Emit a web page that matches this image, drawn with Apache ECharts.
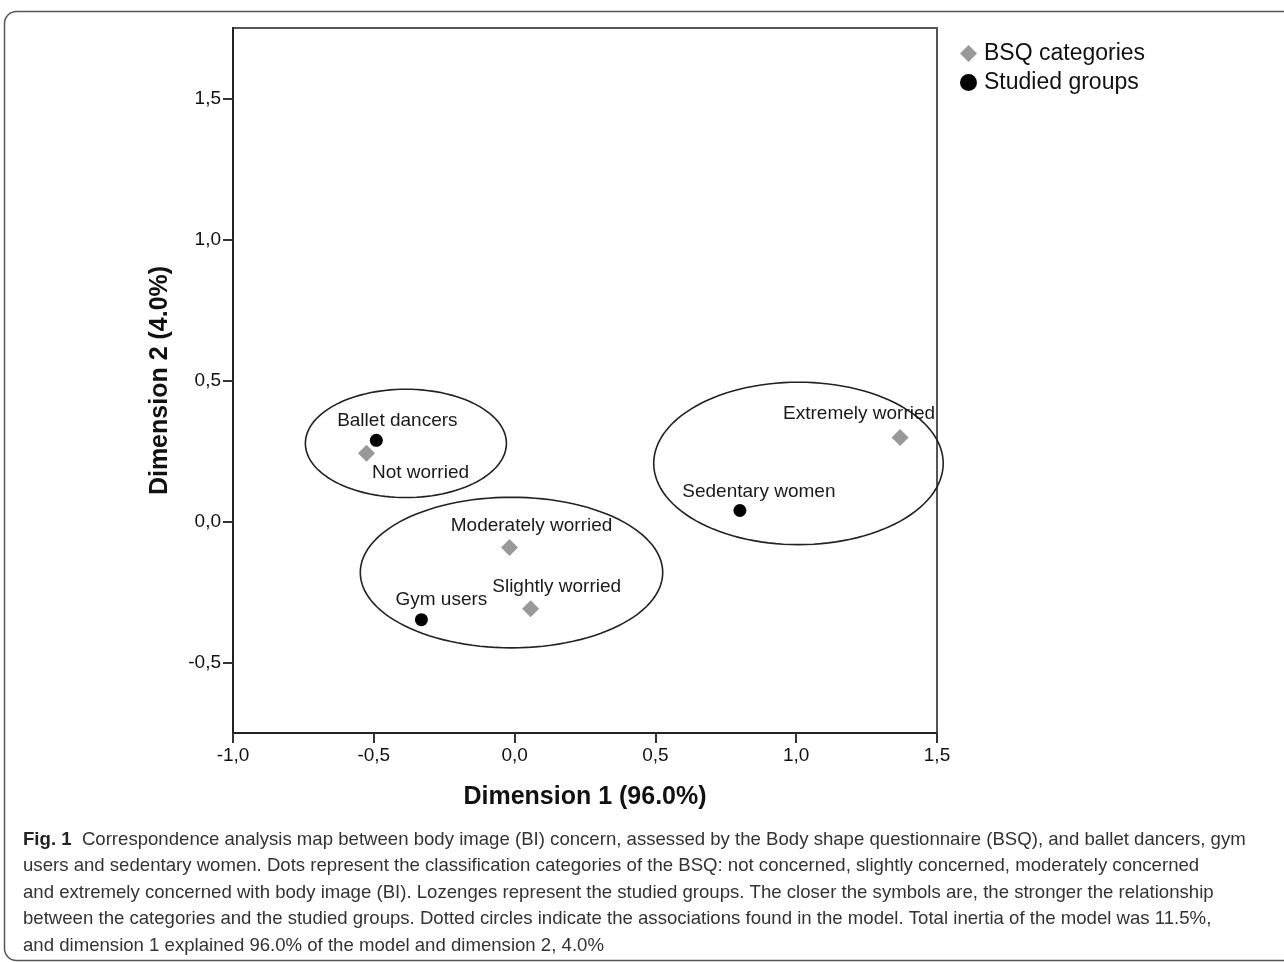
<!DOCTYPE html>
<html>
<head>
<meta charset="utf-8">
<script src="https://cdn.jsdelivr.net/npm/echarts@6/dist/echarts.min.js"></script>
<style>
  html,body{margin:0;padding:0;background:#fff}
  #main{width:1284px;height:962px}
</style>
</head>
<body>
<div id="main"></div>
<script>
// BSQ categories (diamonds)
var bsqNames = ['Not worried', 'Slightly worried', 'Moderately worried', 'Extremely worried']
var bsqDim1 = [-0.526, 0.057, -0.018, 1.369]
var bsqDim2 = [0.242, -0.309, -0.092, 0.298]
// studied groups (dots)
var groupNames = ['Ballet dancers', 'Gym users', 'Sedentary women']
var groupDim1 = [-0.491, -0.331, 0.800]
var groupDim2 = [0.288, -0.348, 0.039]
// association ellipses: centre and radii in data units
var ellCx = [-0.386, -0.011, 1.008]
var ellCy = [0.277, -0.181, 0.206]
var ellRx = [0.357, 0.537, 0.514]
var ellRy = [0.192, 0.267, 0.288]
// ticks
var xTicks = [-1.0, -0.5, 0.0, 0.5, 1.0, 1.5]
var yTicks = [-0.5, 0.0, 0.5, 1.0, 1.5]

// label placement (pixels, relative to the symbol)
var bsqLabelOff = [[54, 20], [26, -22], [22, -22], [-41, -24]]
var groupLabelOff = [[21, -20], [20, -20], [19, -19]]

var captionLines = [
  'Correspondence analysis map between body image (BI) concern, assessed by the Body shape questionnaire (BSQ), and ballet dancers, gym',
  'users and sedentary women. Dots represent the classification categories of the BSQ: not concerned, slightly concerned, moderately concerned',
  'and extremely concerned with body image (BI). Lozenges represent the studied groups. The closer the symbols are, the stronger the relationship',
  'between the categories and the studied groups. Dotted circles indicate the associations found in the model. Total inertia of the model was 11.5%,',
  'and dimension 1 explained 96.0% of the model and dimension 2, 4.0%'
]

var fmt = function(v){ return v.toFixed(1).replace('.', ',') }
var font = 'Liberation Sans, Arial, sans-serif'
var narrow = 'Liberation Sans Narrow, Arial Narrow, Liberation Sans, sans-serif'

function pts(names, xs, ys, offs){
  var out = []
  for (var i = 0; i < names.length; i++) {
    out.push({
      name: names[i],
      value: [xs[i], ys[i]],
      label: {offset: offs[i]}
    })
  }
  return out
}

var ellData = []
for (var i = 0; i < ellCx.length; i++) ellData.push([ellCx[i], ellCy[i], ellRx[i], ellRy[i]])

var captionGraphics = []
for (var i = 0; i < captionLines.length; i++) {
  captionGraphics.push({
    type: 'text',
    left: 23,
    top: 830 + i * 26.6,
    style: {
      text: i == 0 ? '{b|Fig. 1}  ' + captionLines[i] : captionLines[i],
      font: '18.6px ' + narrow,
      fill: '#333',
      rich: {b: {font: 'bold 18.6px ' + narrow, fill: '#222'}}
    }
  })
}

var chart = echarts.init(document.getElementById('main'), null, {renderer: 'canvas'})
var option = {
  animation: false,
  backgroundColor: '#fff',
  textStyle: {fontFamily: font},
  grid: {
    left: 233, top: 28, right: 347, bottom: 229,
    show: true, borderColor: '#555', borderWidth: 2,
    outerBoundsMode: 'none'
  },
  legend: {
    orient: 'vertical',
    left: 955, top: 37,
    itemWidth: 17, itemHeight: 17, itemGap: 6,
    data: [{name: 'BSQ categories', icon: 'diamond'}, {name: 'Studied groups', icon: 'circle'}],
    textStyle: {fontSize: 23, color: '#111', fontFamily: font, padding: [0, 0, 0, 2]}
  },
  xAxis: {
    type: 'value', min: -1.0, max: 1.5, interval: 0.5,
    name: 'Dimension 1 (96.0%)', nameLocation: 'middle', nameGap: 52,
    nameTextStyle: {fontSize: 25, fontWeight: 'bold', color: '#111', fontFamily: narrow},
    axisLine: {show: true, onZero: false, lineStyle: {color: '#222', width: 2}},
    axisTick: {show: true, length: 10, lineStyle: {color: '#333', width: 2}},
    axisLabel: {fontSize: 19, color: '#111', margin: 13, formatter: fmt, showMinLabel: true, showMaxLabel: true},
    splitLine: {show: false}
  },
  yAxis: {
    type: 'value', min: -0.75, max: 1.75,
    name: 'Dimension 2 (4.0%)', nameLocation: 'middle', nameGap: 60,
    nameTextStyle: {fontSize: 25, fontWeight: 'bold', color: '#111', fontFamily: narrow},
    axisLine: {show: true, onZero: false, lineStyle: {color: '#222', width: 2}},
    axisTick: {show: true, length: 10, customValues: yTicks, lineStyle: {color: '#333', width: 2}},
    axisLabel: {fontSize: 19, color: '#111', margin: 12, customValues: yTicks, formatter: fmt},
    splitLine: {show: false}
  },
  series: [
    {
      name: 'Associations',
      type: 'custom',
      clip: false,
      silent: true,
      z: 1,
      data: ellData,
      encode: {x: 0, y: 1},
      renderItem: function(params, api){
        var c = api.coord([api.value(0), api.value(1)])
        var s = api.size([api.value(2), api.value(3)])
        var p = []
        for (var k = 0; k < 120; k++) {
          var a = k / 120 * Math.PI * 2
          p.push([c[0] + s[0] * Math.cos(a), c[1] + s[1] * Math.sin(a)])
        }
        return {
          type: 'polygon',
          shape: {points: p},
          style: {fill: 'none', stroke: '#222', lineWidth: 1.6}
        }
      }
    },
    {
      name: 'BSQ categories',
      type: 'scatter',
      symbol: 'diamond',
      symbolSize: 17,
      z: 3,
      itemStyle: {color: '#999', opacity: 1},
      label: {
        show: true, position: 'inside', formatter: '{b}',
        fontSize: 19, color: '#1a1a1a', fontFamily: font,
        align: 'center', verticalAlign: 'middle'
      },
      data: pts(bsqNames, bsqDim1, bsqDim2, bsqLabelOff)
    },
    {
      name: 'Studied groups',
      type: 'scatter',
      symbol: 'circle',
      symbolSize: 13,
      z: 4,
      itemStyle: {color: '#000', opacity: 1},
      label: {
        show: true, position: 'inside', formatter: '{b}',
        fontSize: 19, color: '#1a1a1a', fontFamily: font,
        align: 'center', verticalAlign: 'middle'
      },
      data: pts(groupNames, groupDim1, groupDim2, groupLabelOff)
    }
  ],
  graphic: [
    {
      type: 'rect',
      left: 2, top: 9,
      shape: {width: 1320, height: 949, r: 12},
      style: {fill: 'none', stroke: '#555', lineWidth: 1.5},
      z: -1
    }
  ].concat(captionGraphics)
}
chart.setOption(option)
</script>
</body>
</html>
